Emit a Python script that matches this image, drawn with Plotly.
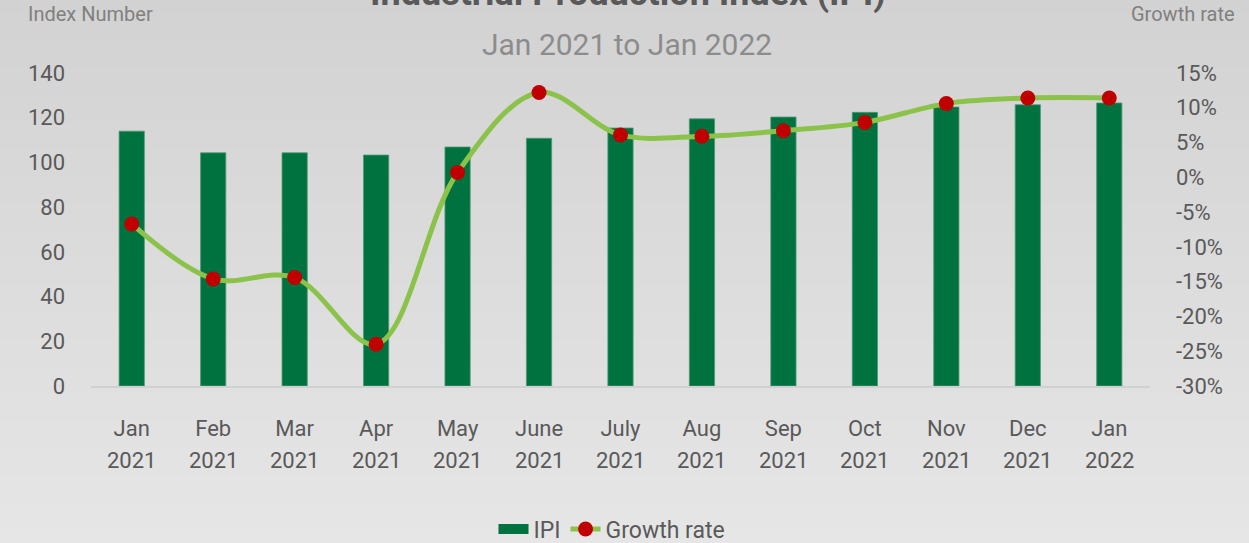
import plotly.graph_objects as go

months = ["Jan", "Feb", "Mar", "Apr", "May", "June", "July", "Aug", "Sep", "Oct", "Nov", "Dec", "Jan"]
years = ["2021"] * 12 + ["2022"]
categories = [f"{m} {y}" for m, y in zip(months, years)]
ipi = [114.0, 104.3, 104.3, 103.3, 106.9, 110.8, 115.4, 119.5, 120.3, 122.4, 124.8, 125.8, 126.6]
growth = [-6.7, -14.6, -14.4, -24.0, 0.7, 12.2, 6.1, 5.9, 6.7, 7.9, 10.6, 11.4, 11.4]
left_ticks = [0, 20, 40, 60, 80, 100, 120, 140]
right_ticks = [-30, -25, -20, -15, -10, -5, 0, 5, 10, 15]
right_ticktext = [f"{v}%" for v in right_ticks]

W, H = 1249, 543
ML, MR, MT, MB = 91, 99, 73, 157
PW, PH = W - ML - MR, H - MT - MB
FONT = "Roboto"
TICK = "#595959"
GREEN = "#00723F"

fig = go.Figure()
fig.add_trace(go.Bar(
    x=categories, y=ipi, name="IPI", marker_color=GREEN,
    marker_line=dict(color="#4f9a73", width=0.8), yaxis="y", hoverinfo="skip",
    legendgroup="ipi", showlegend=False,
))
# legend stand-in for the bar series (wide rectangle swatch)
fig.add_trace(go.Scatter(
    x=[None], y=[None], name="IPI", mode="lines", legendgroup="ipi",
    line=dict(color=GREEN, width=16), hoverinfo="skip",
))
fig.add_trace(go.Scatter(
    x=categories, y=growth, name="Growth rate", yaxis="y2",
    mode="lines+markers", line=dict(color="#8BC34A", width=5, shape="spline", smoothing=1.0),
    marker=dict(color="#C00000", size=15), hoverinfo="skip",
))

# background gradient bands
shapes = []
n = 40
c0, c1 = (211, 210, 210), (230, 230, 230)
for i in range(n):
    p0 = H * i / n
    p1 = H * (i + 1) / n + 1
    t = (i + 0.5) / n
    col = tuple(round(a + (b - a) * t) for a, b in zip(c0, c1))
    shapes.append(dict(
        type="rect", xref="paper", yref="paper", layer="below",
        x0=-ML / PW, x1=(W - ML) / PW,
        y0=(H - MB - p1) / PH, y1=(H - MB - p0) / PH,
        fillcolor=f"rgb{col}", line=dict(width=0),
    ))

def py(p):
    return (H - MB - p) / PH

def px(p):
    return (p - ML) / PW

annotations = []
for c, y in zip(categories, years):
    annotations.append(dict(
        x=c, xref="x", y=py(460.5), yref="paper", text=y, showarrow=False,
        font=dict(family=FONT, size=22, color=TICK), yanchor="middle",
    ))
annotations += [
    dict(x=px(26), y=py(14), xref="paper", yref="paper", xanchor="left",
         yanchor="middle", text="Index Number", showarrow=False,
         font=dict(family=FONT, size=20, color="#808080")),
    dict(x=px(1237), y=py(14), xref="paper", yref="paper", xanchor="right",
         yanchor="middle", text="Growth rate", showarrow=False,
         font=dict(family=FONT, size=20, color="#808080")),
    dict(x=px(627), y=py(45), xref="paper", yref="paper", xanchor="center",
         yanchor="middle", text="Jan 2021 to Jan 2022", showarrow=False,
         font=dict(family=FONT, size=30, color="#8c8c8c")),
    dict(x=px(628), y=py(16), xref="paper", yref="paper", xanchor="center",
         yanchor="bottom", text="<b>Industrial Production Index (IPI)</b>", showarrow=False,
         font=dict(family=FONT, size=36, color="#595959")),
]

fig.update_layout(
    width=W, height=H,
    margin=dict(l=ML, r=MR, t=MT, b=MB, autoexpand=False),
    paper_bgcolor="#dcdcdc", plot_bgcolor="rgba(0,0,0,0)",
    font=dict(family=FONT, size=22, color=TICK),
    bargap=0.69,
    shapes=shapes, annotations=annotations,
    showlegend=True,
    legend=dict(orientation="h", xref="container", yref="container",
                x=612 / W, xanchor="center", y=1 - 529 / H, yanchor="middle",
                font=dict(family=FONT, size=23, color=TICK),
                bgcolor="rgba(0,0,0,0)", tracegroupgap=0),
    xaxis=dict(tickmode="array", tickvals=categories, ticktext=months, showgrid=False,
               range=[-0.5, len(categories) - 0.5],
               showline=True, linecolor="#d0d0d0", linewidth=1.5, ticks="",
               ticklabelstandoff=22, tickfont=dict(size=22, color=TICK), automargin=False),
    yaxis=dict(range=[0, 140], tickvals=left_ticks, showgrid=False, zeroline=False,
               ticks="", ticklabelstandoff=25, tickfont=dict(size=22, color=TICK), automargin=False),
    yaxis2=dict(range=[-30, 15], tickvals=right_ticks, ticktext=right_ticktext, overlaying="y",
                side="right", showgrid=False, zeroline=False, ticks="", ticklabelstandoff=25,
                tickfont=dict(size=22, color=TICK), automargin=False),
)

fig.write_html("out.html")
